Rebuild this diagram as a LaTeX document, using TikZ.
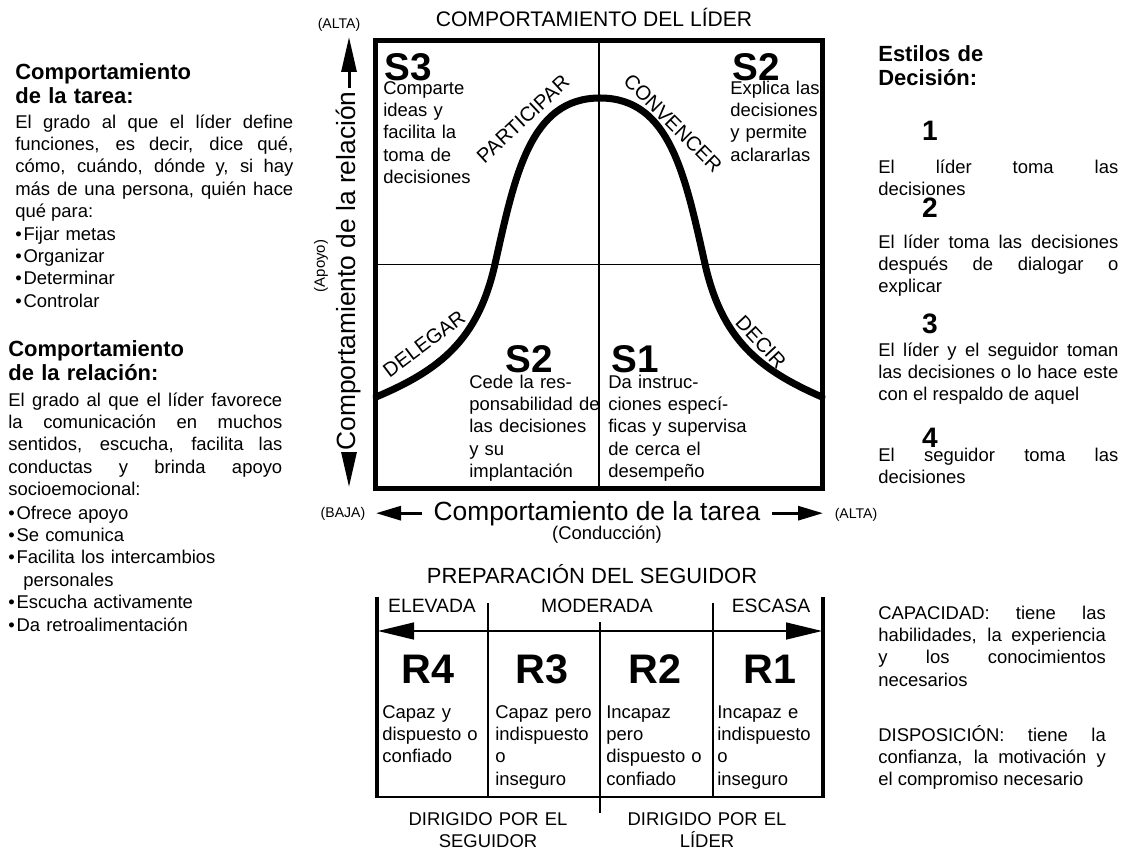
\documentclass[tikz,border=0pt]{standalone}
\usepackage{fontspec}
\setmainfont{Liberation Sans}
\usetikzlibrary{arrows.meta}

\tikzset{
  txt/.style={font=\fontsize{10.5}{12.8}\selectfont, inner sep=0pt, anchor=base west},
  jtxt/.style={txt, align=justify, text width=#1},
  ltxt/.style={txt, align=left, text width=#1},
  hdtxt/.style={font=\fontsize{12.5}{14.2}\selectfont\bfseries, inner sep=0pt, anchor=base west, align=left, text width=4cm},
  stylenum/.style={font=\fontsize{16}{18}\selectfont\bfseries, inner sep=0pt, anchor=base},
  quadlab/.style={font=\fontsize{22}{24}\selectfont\bfseries, inner sep=0pt, anchor=base west},
  readylab/.style={font=\fontsize{23.5}{26}\selectfont\bfseries, inner sep=0pt, anchor=base},
  curvelab/.style={font=\fontsize{11.5}{13}\selectfont, inner sep=0pt},
  paren/.style={font=\fontsize{8}{9}\selectfont, inner sep=0pt},
  captxt/.style={font=\fontsize{12}{14}\selectfont, inner sep=0pt, anchor=base},
  rangelab/.style={font=\fontsize{11}{13}\selectfont, inner sep=0pt, anchor=base},
  axlab/.style={font=\fontsize{15}{17}\selectfont, inner sep=0pt},
  bigtip/.style={line width=1.7pt, -{Triangle[length=0.7cm,width=0.3cm]}},
  midtip/.style={line width=1.7pt, -{Triangle[length=0.5cm,width=0.28cm]}},
}

\begin{document}
\begin{tikzpicture}[x=0.02cm, y=-0.02cm]

    \useasboundingbox (0,0) rectangle (1131,852);

    % left column
    \node[hdtxt] (taskhd) at (15,79) {Comportamiento\\de la tarea:};
    \node[jtxt=5.56cm] (taskpar) at (15,128) {El grado al que el líder define\linebreak funciones, es decir, dice qué,\linebreak cómo, cuándo, dónde y, si hay\linebreak más de una persona, quién hace\linebreak qué para:};
    \node[ltxt=5.56cm] (tasklist) at (15,240) {\textbullet\hspace{1pt}Fijar metas\\\textbullet\hspace{1pt}Organizar\\\textbullet\hspace{1pt}Determinar\\\textbullet\hspace{1pt}Controlar};

    \node[hdtxt] (relhd) at (8,356) {Comportamiento\\de la relación:};
    \node[jtxt=5.48cm] (relpar) at (8,406) {El grado al que el líder favorece\linebreak la comunicación en muchos\linebreak sentidos, escucha, facilita las\linebreak conductas y brinda apoyo\linebreak socioemocional:};
    \node[ltxt=5.5cm] (rellist) at (8,519) {\textbullet\hspace{1pt}Ofrece apoyo\\\textbullet\hspace{1pt}Se comunica\\\textbullet\hspace{1pt}Facilita los intercambios\\\hspace*{8.5pt}personales\\\textbullet\hspace{1pt}Escucha activamente\\\textbullet\hspace{1pt}Da retroalimentación};

    % right column
    \node[hdtxt] (dechd) at (878,61) {Estilos de\\Decisión:};
    \node[stylenum] (n1) at (930,140) {1};
    \node[jtxt=4.8cm] (d1) at (878,173) {El líder toma las\linebreak decisiones};
    \node[stylenum] (n2) at (930,217) {2};
    \node[jtxt=4.8cm] (d2) at (878,248) {El líder toma las decisiones\linebreak después de dialogar o\linebreak explicar};
    \node[stylenum] (n3) at (930,333) {3};
    \node[jtxt=4.8cm] (d3) at (878,356) {El líder y el seguidor toman\linebreak las decisiones o lo hace este\linebreak con el respaldo de aquel};
    \node[stylenum] (n4) at (930,447) {4};
    \node[jtxt=4.8cm] (d4) at (878,461) {El seguidor toma las\linebreak decisiones};

    \node[jtxt=4.55cm] (capac) at (878,619) {CAPACIDAD: tiene las\linebreak habilidades, la experiencia\linebreak y los conocimientos\linebreak necesarios};
    \node[jtxt=4.55cm] (dispo) at (878,741) {DISPOSICIÓN: tiene la\linebreak confianza, la motivación y\linebreak el compromiso necesario};

    % leader behaviour grid
    \node[captxt] (title) at (594,27) {COMPORTAMIENTO DEL LÍDER};
    \node[draw, line width=2.85pt, minimum width=8.96cm, minimum height=8.98cm, inner sep=0pt] (grid) at (599,264.5) {};
    \draw[line width=0.6pt] (grid.north) -- (grid.south);
    \draw[line width=0.6pt] (grid.west) -- (grid.east);

    \draw[line width=4pt, line cap=round] (376,397) .. controls (440,370) and (478,340) .. (495,264)
      .. controls (515,175) and (530,98) .. (600,98)
      .. controls (670,98) and (685,175) .. (705,264)
      .. controls (722,340) and (760,370) .. (822,397);

    \node[quadlab] (s3) at (384,80) {S3};
    \node[ltxt=2.5cm] (s3txt) at (383,94) {Comparte\\ideas y\\facilita la\\toma de\\decisiones};
    \node[quadlab] (s2top) at (732,80) {S2};
    \node[ltxt=2cm] (s2toptxt) at (730,94) {Explica las\\decisiones\\y permite\\aclararlas};
    \node[quadlab] (s2low) at (505,372) {S2};
    \node[ltxt=3cm] (s2lowtxt) at (469,388) {Cede la res-\\ponsabilidad de\\las decisiones\\y su\\implantación};
    \node[quadlab] (s1) at (611,372) {S1};
    \node[ltxt=3.3cm] (s1txt) at (608,388) {Da instruc-\\ciones especí-\\ficas y supervisa\\de cerca el\\desempeño};

    \node[curvelab, rotate=43] (partic) at (523,119) {PARTICIPAR};
    \node[curvelab, rotate=-45] (conv) at (673,123) {CONVENCER};
    \node[curvelab, rotate=37] (deleg) at (424,344) {DELEGAR};
    \node[curvelab, rotate=-47] (decir) at (761,342) {DECIR};

    % axes
    \node[axlab, rotate=90, inner xsep=2pt] (ylab) at (349,271) {Comportamiento de la relación};
    \node[paren, font=\fontsize{8.5}{10}\selectfont, rotate=90] (apoyo) at (321,266) {(Apoyo)};
    \node[paren] (yhigh) at (339,25) {(ALTA)};
    \coordinate (ytop) at (349,37);
    \coordinate (ybot) at (349,487);
    \draw[bigtip] (ylab.east) -- (ytop);
    \draw[bigtip] (ylab.west) -- (ybot);

    \node[axlab, anchor=base, inner xsep=6.5pt] (xlab) at (597,520) {Comportamiento de la tarea};
    \node[txt, anchor=center] (cond) at (607,535) {(Conducción)};
    \node[paren] (xlow) at (343,514) {(BAJA)};
    \node[paren] (xhigh) at (856,515) {(ALTA)};
    \coordinate (xleft) at (376,513);
    \coordinate (xright) at (823,513);
    \draw[midtip] (xlab.west) -- (xleft |- xlab.west);
    \draw[midtip] (xlab.east) -- (xright |- xlab.east);

    % follower readiness
    \node[captxt, font=\fontsize{12.5}{14}\selectfont] (prep) at (592,583) {PREPARACIÓN DEL SEGUIDOR};
    \draw[line width=2.2pt] (377,597) -- (377,798);
    \draw[line width=2.2pt] (823,597) -- (823,798);
    \draw[line width=0.9pt] (377,797) -- (823,797);
    \draw[line width=0.6pt] (488,603) -- (488,797);
    \draw[line width=0.6pt] (713,603) -- (713,797);
    \draw[line width=0.6pt] (600,622) -- (600,813);
    \coordinate (rleft) at (378,631);
    \coordinate (rright) at (822,631);
    \draw[line width=0.8pt, {Triangle[length=0.72cm,width=0.34cm]}-{Triangle[length=0.72cm,width=0.34cm]}] (rleft) -- (rright);

    \node[rangelab] (elev) at (432,612) {ELEVADA};
    \node[rangelab] (moder) at (597,612) {MODERADA};
    \node[rangelab] (escasa) at (771,612) {ESCASA};

    \foreach \r/\x in {4/428,3/542,2/655,1/770}{
      \node[readylab] (r\r) at (\x,683) {R\r};
    }
    \node[ltxt=2.2cm] (r4txt) at (382,718) {Capaz y\\dispuesto o\\confiado};
    \node[ltxt=2.2cm] (r3txt) at (495,718) {Capaz pero\\indispuesto\\o\\inseguro};
    \node[ltxt=2.2cm] (r2txt) at (606,718) {Incapaz\\pero\\dispuesto o\\confiado};
    \node[ltxt=2.2cm] (r1txt) at (717,718) {Incapaz e\\indispuesto\\o\\inseguro};

    \node[txt, anchor=base, align=center, text width=4cm] (byfol) at (488,825) {DIRIGIDO POR EL\\SEGUIDOR};
    \node[txt, anchor=base, align=center, text width=4cm] (bylead) at (707,825) {DIRIGIDO POR EL\\LÍDER};

\end{tikzpicture}
\end{document}
